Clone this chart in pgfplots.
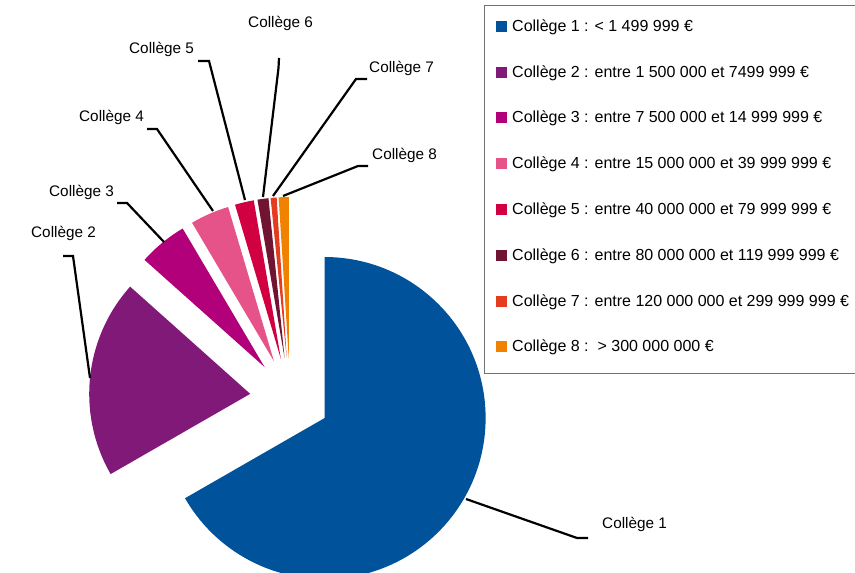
\documentclass[border=0pt]{standalone}
\usepackage{pgfplots}
\pgfplotsset{compat=1.18}
\usepackage{pgfplotstable}
\usepackage{fontspec}
\setmainfont{Liberation Sans}

\definecolor{c1}{RGB}{0,82,155}
\definecolor{c2}{RGB}{129,25,121}
\definecolor{c3}{RGB}{178,0,122}
\definecolor{c4}{RGB}{230,83,137}
\definecolor{c5}{RGB}{208,0,65}
\definecolor{c6}{RGB}{112,20,50}
\definecolor{c7}{RGB}{228,60,30}
\definecolor{c8}{RGB}{240,130,0}

% share of each college (percent)
\pgfplotstableread{
college val
1 66.7
2 19.9
3 4.9
4 3.9
5 1.9
6 1.1
7 0.6
8 1.0
}\piedata

\begin{document}
\begin{tikzpicture}[
  lbl/.style={font=\fontsize{15.3bp}{18bp}\selectfont, anchor=west, inner sep=0pt},
  leg/.style={font=\fontsize{16bp}{18bp}\selectfont, anchor=west, inner sep=0pt},
  ldr/.style={line width=2.2bp, line join=miter}]
\begin{axis}[
  width=855bp, height=573bp, scale only axis,
  xmin=0, xmax=855, ymin=0, ymax=573,
  hide axis, clip=true,
]
\def\cum{90}
\pgfplotsforeachungrouped \i in {0,...,7}{
  \pgfplotstablegetelem{\i}{val}\of\piedata
  \pgfmathsetmacro\sweep{3.6*\pgfplotsretval}
  \pgfmathsetmacro\aend{\cum-\sweep}
  \pgfmathsetmacro\amid{\cum-\sweep/2}
  \pgfmathsetmacro\ax{290+40*cos(\amid)}
  \pgfmathsetmacro\ay{175+40*sin(\amid)}
  \pgfmathsetmacro\bx{\ax+161*cos(\cum)}
  \pgfmathsetmacro\by{\ay+161*sin(\cum)}
  \pgfmathtruncatemacro\k{\i+1}
  \edef\temp{\noexpand\fill[c\k] (axis cs:\ax,\ay) -- (axis cs:\bx,\by) arc[start angle=\cum, end angle=\aend, radius=161bp] -- cycle;}
  \temp
  \global\let\cum\aend
}

% leader lines
\draw[ldr] (axis cs:466,74) -- (axis cs:577,35) -- (axis cs:588,35);
\draw[ldr] (axis cs:63,317) -- (axis cs:73,317) -- (axis cs:90,195);
\draw[ldr] (axis cs:117,370) -- (axis cs:127,370) -- (axis cs:164,331);
\draw[ldr] (axis cs:147,444) -- (axis cs:157,444) -- (axis cs:213,362);
\draw[ldr] (axis cs:198,512) -- (axis cs:209,512) -- (axis cs:245,373);
\draw[ldr] (axis cs:279,515) -- (axis cs:278.5,505) -- (axis cs:263,376);
\draw[ldr] (axis cs:367,494) -- (axis cs:356,494) -- (axis cs:273,377);
\draw[ldr] (axis cs:368,407) -- (axis cs:358,407) -- (axis cs:283,377);

% slice labels
\node[lbl] at (axis cs:602,49) {Collège 1};
\node[lbl] at (axis cs:31,340) {Collège 2};
\node[lbl] at (axis cs:49,381) {Collège 3};
\node[lbl] at (axis cs:79,456) {Collège 4};
\node[lbl] at (axis cs:129,524) {Collège 5};
\node[lbl] at (axis cs:248,550) {Collège 6};
\node[lbl] at (axis cs:369,505) {Collège 7};
\node[lbl] at (axis cs:372,418) {Collège 8};

% legend
\draw[line width=1.5bp, draw=black!55] (axis cs:484.5,567.5) rectangle (axis cs:870,199.5);
\fill[c1] (axis cs:496,540.5) rectangle (axis cs:507,551.5);
\fill[c2] (axis cs:496,494.5) rectangle (axis cs:507,505.5);
\fill[c3] (axis cs:496,449.5) rectangle (axis cs:507,460.5);
\fill[c4] (axis cs:496,403.5) rectangle (axis cs:507,414.5);
\fill[c5] (axis cs:496,357.5) rectangle (axis cs:507,368.5);
\fill[c6] (axis cs:496,311.5) rectangle (axis cs:507,322.5);
\fill[c7] (axis cs:496,265.5) rectangle (axis cs:507,276.5);
\fill[c8] (axis cs:496,220.5) rectangle (axis cs:507,231.5);
\node[leg] at (axis cs:512,546) {Collège 1 : < 1 499 999 €};
\node[leg] at (axis cs:512,500) {Collège 2 : entre 1 500 000 et 7499 999 €};
\node[leg] at (axis cs:512,455) {Collège 3 : entre 7 500 000 et 14 999 999 €};
\node[leg] at (axis cs:512,409) {Collège 4 : entre 15 000 000 et 39 999 999 €};
\node[leg] at (axis cs:512,363) {Collège 5 : entre 40 000 000 et 79 999 999 €};
\node[leg] at (axis cs:512,317) {Collège 6 : entre 80 000 000 et 119 999 999 €};
\node[leg] at (axis cs:512,271) {Collège 7 : entre 120 000 000 et 299 999 999 €};
\node[leg] at (axis cs:512,226) {Collège 8 :\ \ > 300 000 000 €};
\end{axis}
\pgfresetboundingbox
\path[use as bounding box] (current axis.south west) rectangle (current axis.north east);
\end{tikzpicture}
\end{document}
